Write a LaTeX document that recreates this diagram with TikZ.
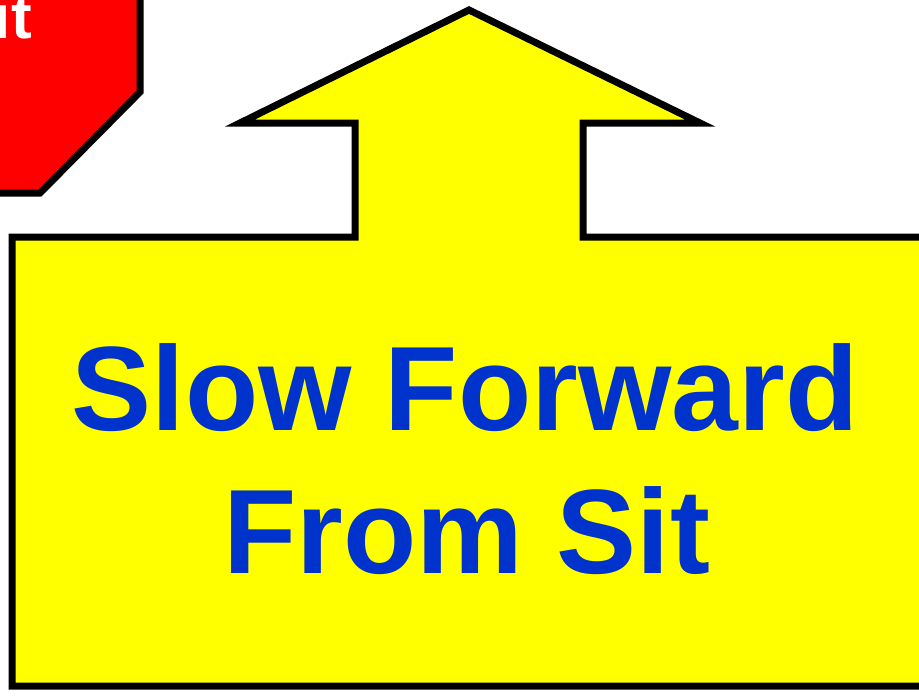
\documentclass[tikz,border=0pt]{standalone}
\usepackage{fontspec}
\setmainfont{Liberation Sans}
\definecolor{signred}{RGB}{255,0,0}
\definecolor{signyellow}{RGB}{255,255,0}
\definecolor{textblue}{RGB}{0,51,204}
\begin{document}
\begin{tikzpicture}[x=1pt,y=-1pt,
  outline/.style={draw=black,line width=7pt,line join=miter,miter limit=10},
  bigtext/.style={text=textblue,font=\bfseries\fontsize{120}{143}\selectfont,inner sep=0pt,anchor=base},
  stoptext/.style={text=white,font=\bfseries\fontsize{62}{66}\selectfont,inner sep=0pt,anchor=base east}]
\useasboundingbox (0,0) rectangle (919,696);
% red stop sign (partly off the page)
\path[outline,fill=signred] (140,-20) -- (140,92) -- (40,193) -- (-30,193) -- (-30,-20) -- cycle;
\node[stoptext] (stop) at (32,38) {Sit};
% yellow arrow sign
\path[outline,fill=signyellow] (12,686) -- (12,237) -- (355,237) -- (355,123) -- (240,123)
  -- (469,10) -- (700,123) -- (583,123) -- (583,237) -- (935,237) -- (935,686) -- cycle;
\node[bigtext] (line1) at (465,430) {Slow Forward};
\node[bigtext] (line2) at (467,573) {From Sit};
\end{tikzpicture}
\end{document}
